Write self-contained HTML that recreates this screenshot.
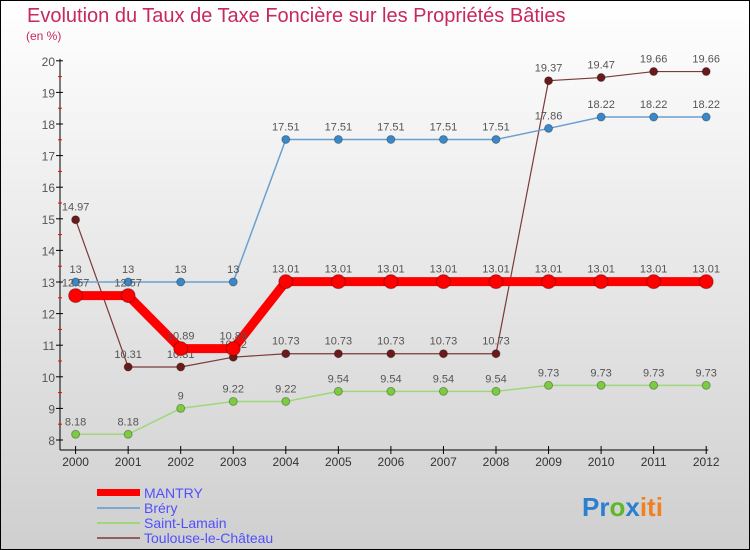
<!DOCTYPE html>
<html><head><meta charset="utf-8"><style>
body{margin:0}
#c{width:750px;height:550px;position:relative;overflow:hidden;background:linear-gradient(#ffffff,#cfcfcf);font-family:"Liberation Sans",sans-serif}
</style></head><body>
<div id="c">
<svg id="s" width="750" height="550">
<rect x="0.5" y="0.5" width="749" height="549" fill="none" stroke="#000"/>
<text x="27" y="22" font-size="20" fill="#c8285a">Evolution du Taux de Taxe Foncière sur les Propriétés Bâties</text>
<text x="26" y="40" font-size="12" fill="#c8285a">(en %)</text>
<g id="ax"></g><g id="ser"></g>
<g font-size="14" fill="#5050ff">
<rect x="97" y="489" width="43" height="7" fill="#f00"/>
<text x="144" y="498">MANTRY</text>
<line x1="97" y1="508" x2="140" y2="508" stroke="#7aa8d0" stroke-width="2"/>
<text x="144" y="513">Bréry</text>
<line x1="97" y1="523" x2="140" y2="523" stroke="#9ed87a" stroke-width="2"/>
<text x="144" y="528">Saint-Lamain</text>
<line x1="97" y1="538" x2="140" y2="538" stroke="#906060" stroke-width="2"/>
<text x="144" y="543">Toulouse-le-Château</text>
</g>
<text x="582" y="516" font-size="26" font-weight="bold"><tspan fill="#2a7fd0">Pr</tspan><tspan fill="#5cb82a">o</tspan><tspan fill="#2a7fd0">x</tspan><tspan fill="#f08020">iti</tspan></text>
</svg></div>
<script>
const years=[2000,2001,2002,2003,2004,2005,2006,2007,2008,2009,2010,2011,2012];
const mantry=[12.57,12.57,10.89,10.89,13.01,13.01,13.01,13.01,13.01,13.01,13.01,13.01,13.01];
const brery=[13,13,13,13,17.51,17.51,17.51,17.51,17.51,17.86,18.22,18.22,18.22];
const saintLamain=[8.18,8.18,9,9.22,9.22,9.54,9.54,9.54,9.54,9.73,9.73,9.73,9.73];
const toulouse=[14.97,10.31,10.31,10.62,10.73,10.73,10.73,10.73,10.73,19.37,19.47,19.66,19.66];
const yTicks=[8,9,10,11,12,13,14,15,16,17,18,19,20];
const NS="http://www.w3.org/2000/svg";
const X=i=>75.6+i*52.55, Y=v=>440-(v-8)*31.6;
function mk(t,a,p){const e=document.createElementNS(NS,t);for(const k in a)e.setAttribute(k,a[k]);p.appendChild(e);return e;}
const ax=document.getElementById('ax'),ser=document.getElementById('ser');
let l=mk('line',{x1:60,y1:Y(20)-2,x2:60,y2:450,stroke:'#000'},ax);


l=mk('line',{x1:60,y1:450,x2:X(12)+2,y2:450,stroke:'#000'},ax);


yTicks.forEach(v=>{
 mk('line',{x1:56,y1:Y(v),x2:63,y2:Y(v),stroke:'#000'},ax);
 if(v<20)mk('line',{x1:58,y1:Y(v+0.5),x2:62,y2:Y(v+0.5),stroke:'#f00'},ax);
 const t=mk('text',{x:55,y:Y(v)+5,'font-size':12,fill:'#555','text-anchor':'end'},ax);t.textContent=v;
 
 
});
years.forEach((y,i)=>{
 mk('line',{x1:X(i),y1:446,x2:X(i),y2:454,stroke:'#000'},ax);
 const t=mk('text',{x:X(i),y:466,'font-size':12,fill:'#333','text-anchor':'middle'},ax);t.textContent=y;
 
 
});
function series(d,name,col,w,dotc,r){
 const g=mk('g',{},ser);
 
 
 const pl=mk('polyline',{points:d.map((v,i)=>X(i)+','+Y(v)).join(' '),fill:'none',stroke:col,'stroke-width':w},g);
 
 
 d.forEach((v,i)=>{
  const c=mk('circle',{cx:X(i),cy:Y(v),r:r,fill:dotc,stroke:'rgba(0,0,0,0.3)'},g);
  
  
  const t=mk('text',{x:X(i),y:Y(v)-9,'font-size':11,fill:'#555','text-anchor':'middle'},g);t.textContent=v;
  
  
 });
}
series(toulouse,'toulouse','#7a3a3a',1.2,'#6a1a1a',4);
series(saintLamain,'saint-lamain','#9ed87a',1.5,'#7ccc40',4);
series(brery,'brery','#6aa0d0',1.5,'#3a88c8',4);
series(mantry,'mantry','#f00',9,'#f00',7);
</script>
</body></html>
